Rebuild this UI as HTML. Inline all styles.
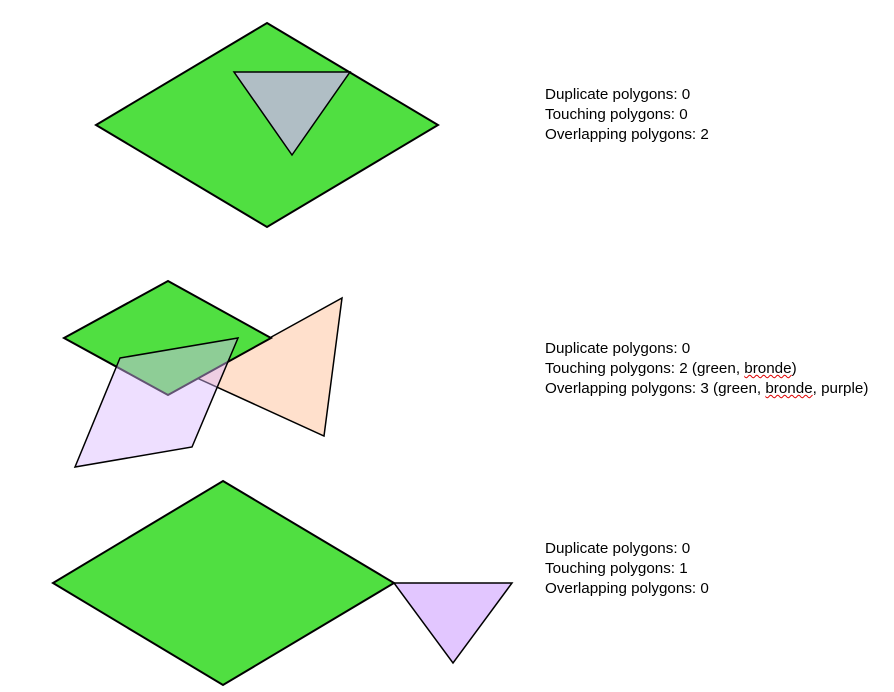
<!DOCTYPE html>
<html><head><style>
body{margin:0;background:#fff;width:894px;height:692px;overflow:hidden;position:relative}
.t{position:absolute;left:545px;font-family:"Liberation Sans",sans-serif;font-size:15.2px;line-height:20px;color:#000;white-space:nowrap}
.sq{text-decoration:underline wavy #d00;text-decoration-thickness:1px}
</style></head><body>
<svg width="894" height="692" style="position:absolute;left:0;top:0">
<g stroke="#000" stroke-width="2" stroke-linejoin="miter">
<polygon points="267,23 438,125 267,227 96,125" fill="#50df41"/>
<polygon points="234,72 350,72 292,155" fill="#b0bec5" stroke-width="1.5"/>
<polygon points="342,298 324,436 197,378" fill="#ffe0cc" stroke-width="1.5"/>
<polygon points="168,281 271,338 168,395 64,338" fill="#50df41"/>
<polygon points="120,358 238,338 192,447 75,467" fill="#d9b8ff" fill-opacity="0.45" stroke-width="1.5"/>
<polygon points="223,481 394,583 223,685 53,583" fill="#50df41"/>
<polygon points="394,583 512,583 453,663" fill="#e2c6ff" stroke-width="1.5"/>
</g>
</svg>
<div class="t" style="top:85px">Duplicate polygons: 0<br>Touching polygons: 0<br>Overlapping polygons: 2</div>
<div class="t" style="top:339px">Duplicate polygons: 0<br>Touching polygons: 2 (green, <span class="sq">bronde</span>)<br>Overlapping polygons: 3 (green, <span class="sq">bronde</span>, purple)</div>
<div class="t" style="top:539px">Duplicate polygons: 0<br>Touching polygons: 1<br>Overlapping polygons: 0</div>
</body></html>
